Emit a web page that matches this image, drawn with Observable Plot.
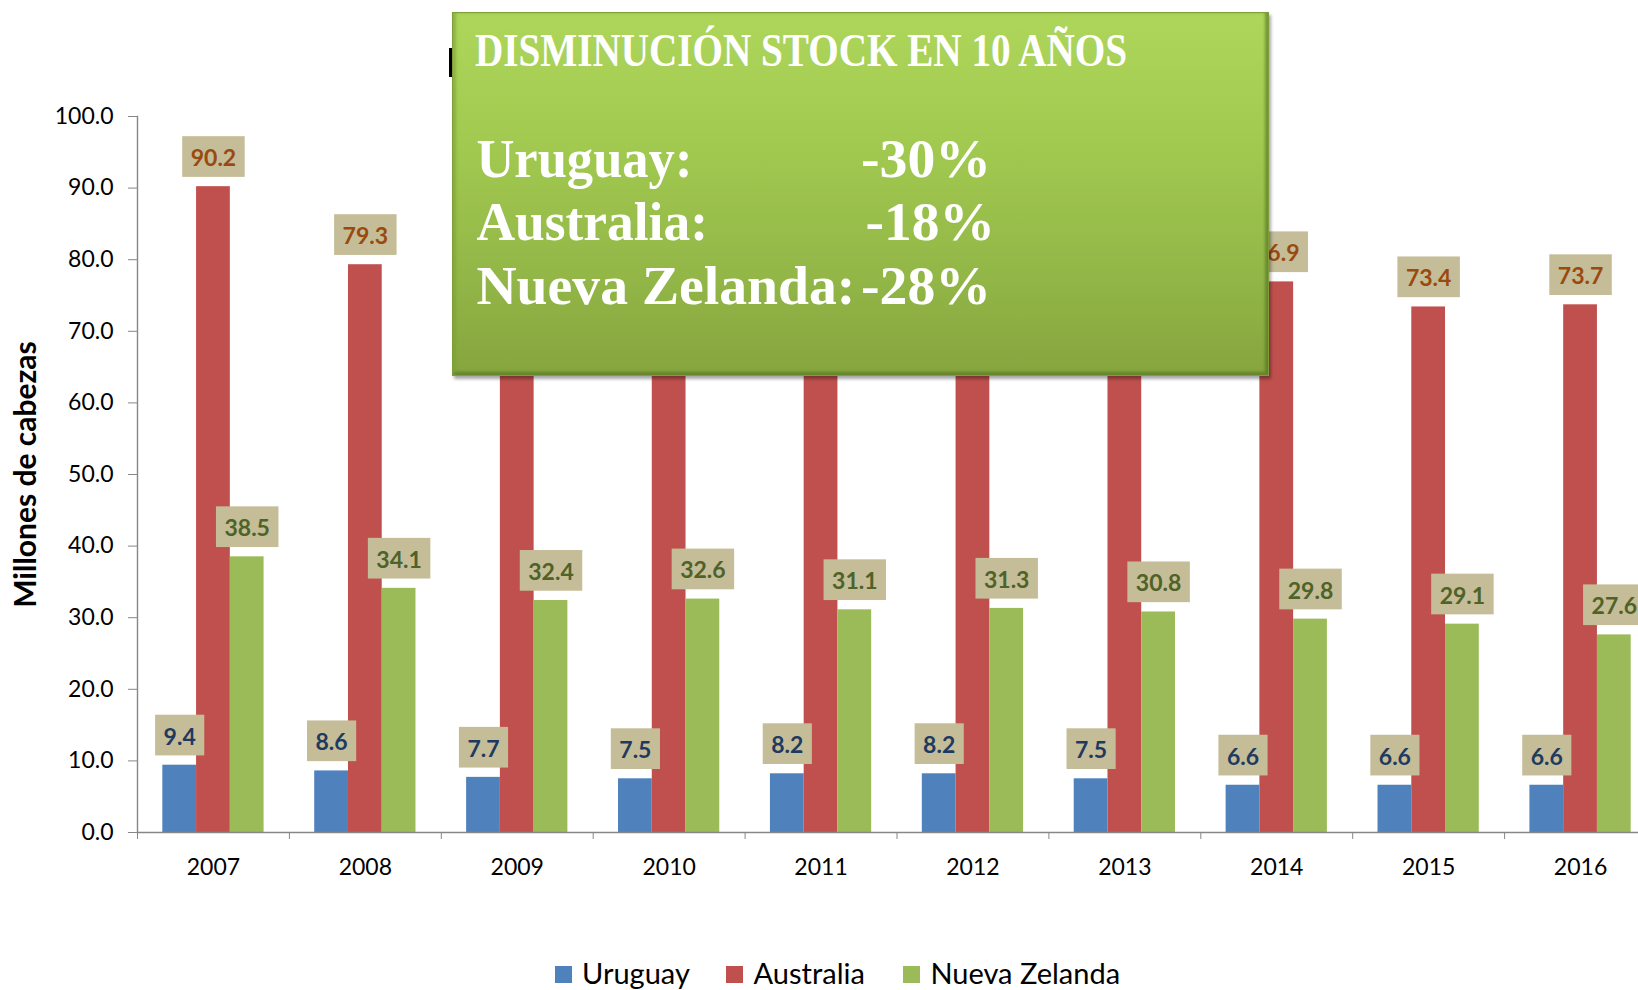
<!DOCTYPE html>
<html>
<head>
<meta charset="utf-8">
<script src="https://cdn.jsdelivr.net/npm/d3@7"></script>
<script src="https://cdn.jsdelivr.net/npm/@observablehq/plot@0.6"></script>
<style>
html, body { margin: 0; padding: 0; background: #fff; }
#wrap { position: relative; width: 1638px; height: 990px; overflow: hidden; font-family: Lato, sans-serif; }
#chart { position: absolute; left: 0; top: 0; width: 1657px; }
#chart svg { max-width: none !important; }
#peek { position: absolute; left: 449px; top: 48px; width: 5px; height: 29px; background: #000; }
#box {
  position: absolute; left: 452px; top: 12px; width: 817px; height: 364px; box-sizing: border-box;
  background: linear-gradient(to bottom, #add65b 0%, #a2ca50 35%, #94b848 70%, #86a53e 100%);
  border: 1px solid #7e9e3a;
  box-shadow: inset 3px 0 3px rgba(120,160,50,0.6), inset -3px -3px 3px rgba(70,100,25,0.55), 2px 3px 3px rgba(0,0,0,0.35);
}
#box svg { position: absolute; left: -1px; top: -1px; }
.leg { position: absolute; font-family: Lato, sans-serif; font-size: 29px; line-height: 30px; top: 958px; color: #000; white-space: nowrap; }
.sq { position: absolute; width: 17px; height: 17px; top: 966px; }
</style>
</head>
<body>
<div id="wrap">
  <div id="chart"></div>
  <div id="peek"></div>
  <div id="box"></div>
  <div id="legend"></div>
</div>
<script>
// ---- data ----
const years = ["2007", "2008", "2009", "2010", "2011", "2012", "2013", "2014", "2015", "2016"];
const seriesNames = ["Uruguay", "Australia", "Nueva Zelanda"];
const uruguay = [9.4, 8.6, 7.7, 7.5, 8.2, 8.2, 7.5, 6.6, 6.6, 6.6];
const australia = [90.2, 79.3, 72.7, 68.1, 73.1, 74.7, 75.5, 76.9, 73.4, 73.7];
const nuevaZelanda = [38.5, 34.1, 32.4, 32.6, 31.1, 31.3, 30.8, 29.8, 29.1, 27.6];
const yTicks = [0, 10, 20, 30, 40, 50, 60, 70, 80, 90, 100];
const yLabel = "Millones de cabezas";
const boxTitle = "DISMINUCIÓN STOCK EN 10 AÑOS";
const boxRows = [["Uruguay:", "-30%"], ["Australia:", "-18%"], ["Nueva Zelanda:", "-28%"]];

// ---- layout ----
const W = 1657, H = 900, mL = 137, mR = 1, mT = 116, mB = 68;
const step = (W - mL - mR) / years.length;
const barW = step * 2 / 9;
const axisColor = "#878787";
const fills = ["#4F81BD", "#C0504D", "#9BBB59"];
const labelColors = ["#1F3A60", "#9A4A0E", "#4F6228"];
const offsets = [-barW, 0, barW];
const valuesBySeries = [uruguay, australia, nuevaZelanda];

const rows = seriesNames.map((s, k) => years.map((y, i) => ({year: y, value: valuesBySeries[k][i], series: s})));

const marks = [];
rows.forEach((r, k) => marks.push(Plot.barY(r, {x: "year", y: "value", fill: fills[k], dx: offsets[k]})));
marks.push(Plot.ruleY([0], {stroke: axisColor, strokeWidth: 1.4}));
marks.push(Plot.frame({anchor: "left", stroke: axisColor, strokeWidth: 1.4}));
marks.push(Plot.axisY({ticks: yTicks, tickFormat: d3.format(".1f"), tickSize: 9, tickPadding: 15, fontSize: 23, stroke: axisColor, fill: "#000", label: null}));
marks.push(Plot.axisX({tickSize: 0, tickPadding: 26, fontSize: 23, fill: "#000", label: null}));
marks.push(Plot.axisX({tickSize: 7, tickFormat: () => "", dx: -step / 2, stroke: axisColor, label: null}));
rows.forEach((r, k) => marks.push(Plot.text(r, {
  x: "year", y: "value", text: d => d3.format(".1f")(d.value),
  dx: offsets[k], dy: -28, fill: labelColors[k], fontWeight: "bold", fontSize: 23,
  ariaDescription: "valuelabel"
})));
marks.push(Plot.text([yLabel], {frameAnchor: "left", text: d => d, rotate: -90, textAnchor: "middle", lineAnchor: "middle", dx: -111, fontSize: 30, fontWeight: "bold", fill: "#000"}));

const svg = Plot.plot({
  width: W, height: H, marginLeft: mL, marginRight: mR, marginTop: mT, marginBottom: mB,
  style: {fontFamily: "Lato, sans-serif", background: "transparent", overflow: "visible", maxWidth: "none"},
  x: {type: "band", domain: years, paddingInner: 7 / 9, paddingOuter: 7 / 18, align: 0.5, round: false},
  y: {domain: [0, 100]},
  marks
});
document.getElementById("chart").append(svg);

// label boxes behind value labels
const NS = "http://www.w3.org/2000/svg";
svg.querySelectorAll('g[aria-description="valuelabel"] text').forEach(t => {
  const b = t.getBBox();
  const r = document.createElementNS(NS, "rect");
  const h = 40.7, padX = 8.5;
  r.setAttribute("x", b.x - padX);
  r.setAttribute("y", b.y + b.height / 2 - h / 2 - 0.5);
  r.setAttribute("width", b.width + 2 * padX);
  r.setAttribute("height", h);
  r.setAttribute("fill", "#C4BD97");
  r.setAttribute("stroke", "none");
  if (t.getAttribute("transform")) r.setAttribute("transform", t.getAttribute("transform"));
  t.parentNode.insertBefore(r, t);
});

// overlay box text
const box = document.getElementById("box");
const bs = d3.select(box).append("svg").attr("width", 817).attr("height", 364)
  .style("font-family", "'Liberation Serif', serif").style("font-weight", "bold").attr("fill", "#fff");
bs.append("text").attr("x", 23).attr("y", 53.5).attr("font-size", 46)
  .attr("textLength", 652).attr("lengthAdjust", "spacingAndGlyphs").text(boxTitle);
const rowBase = [165, 228.3, 291.5];
const leftW = [216, 231.6, 379];
const rightX = [409, 413.6, 409];
const rightW = [130, 129.4, 130];
boxRows.forEach((r, i) => {
  bs.append("text").attr("x", 24.4).attr("y", rowBase[i]).attr("font-size", 54)
    .attr("textLength", leftW[i]).attr("lengthAdjust", "spacingAndGlyphs").text(r[0]);
  bs.append("text").attr("x", rightX[i]).attr("y", rowBase[i]).attr("font-size", 54)
    .attr("textLength", rightW[i]).attr("lengthAdjust", "spacingAndGlyphs").text(r[1]);
});

// legend
const legend = document.getElementById("legend");
const sqX = [555.3, 726.4, 902.8];
const txX = [582, 753.5, 930.4];
seriesNames.forEach((s, k) => {
  const sq = document.createElement("div");
  sq.className = "sq"; sq.style.left = sqX[k] + "px"; sq.style.background = fills[k];
  legend.append(sq);
  const tx = document.createElement("div");
  tx.className = "leg"; tx.style.left = txX[k] + "px"; tx.textContent = s;
  legend.append(tx);
});
</script>
</body>
</html>
